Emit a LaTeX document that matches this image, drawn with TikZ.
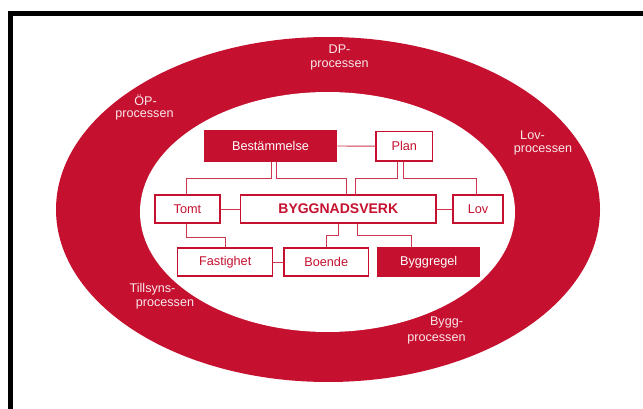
\documentclass[tikz,border=0pt]{standalone}
\usepackage{fontspec}
\setmainfont{Liberation Sans}
\definecolor{crim}{RGB}{197,17,47}
\definecolor{ringtxt}{RGB}{250,232,235}
\tikzset{
  box/.style={draw=crim, line width=1.4pt, fill=white, text=crim, inner sep=0pt,
    font=\fontsize{12.7}{15}\selectfont},
  fbox/.style={box, fill=crim, text=white},
  conn/.style={draw=crim!85, line width=0.9pt},
  ringlbl/.style={text=ringtxt, inner sep=0pt, font=\fontsize{12.6}{15}\selectfont}
}
\begin{document}
\begin{tikzpicture}[x=1pt,y=-1pt]
\useasboundingbox (0,0) rectangle (643,409);
\fill[white] (0,0) rectangle (643,409);
% frame
\draw[line width=5pt, line join=miter] (10.5,409) -- (10.5,13.5) -- (643,13.5);
% ring
\fill[crim] (328,209.5) ellipse [x radius=272, y radius=172.5];
\fill[white] (327.5,212) ellipse [x radius=187.5, y radius=120];
% ring labels
\node[ringlbl] (dp1) at (339.5,49.5) {DP-};
\node[ringlbl] (dp2) at (339.5,65) {processen};
\node[ringlbl] (op1) at (145.5,100) {ÖP-};
\node[ringlbl] (op2) at (144.5,115) {processen};
\node[ringlbl] (lv1) at (532.5,135) {Lov-};
\node[ringlbl] (lv2) at (543,150.5) {processen};
\node[ringlbl] (ti1) at (152.5,289.5) {Tillsyns-};
\node[ringlbl] (ti2) at (165,304.5) {processen};
\node[ringlbl] (by1) at (446.5,322.5) {Bygg-};
\node[ringlbl] (by2) at (436.5,339) {processen};
% boxes
\node[fbox, minimum width=132.4pt, minimum height=30pt] (best) at (270.5,146) {Bestämmelse};
\node[box, minimum width=56.7pt, minimum height=29.5pt] (plan) at (404.3,146.2) {Plan};
\node[box, minimum width=65pt, minimum height=28pt] (tomt) at (187.5,209) {Tomt};
\node[box, minimum width=195.3pt, minimum height=28pt, font=\fontsize{14}{16}\selectfont\bfseries] (bv) at (338.3,209) {BYGGNADSVERK};
\node[box, minimum width=50pt, minimum height=28pt] (lov) at (478,209) {Lov};
\node[box, minimum width=95pt, minimum height=28.3pt] (fast) at (225.2,262) {Fastighet};
\node[box, minimum width=84.3pt, minimum height=28.3pt] (boende) at (326.2,262) {Boende};
\node[fbox, minimum width=101.3pt, minimum height=28.3pt] (bygg) at (428.7,262) {Byggregel};
% connectors
\draw[conn] (best.east) -- (plan.west);
\draw[conn] ([xshift=0.5pt]best.south) -- ++(0,16.7) -| ([xshift=-0.8pt]tomt.north);
\draw[conn] ([xshift=6.2pt]best.south) -- ++(0,16.7) -| ([xshift=8pt]bv.north);
\draw[conn] ([xshift=-6.6pt]plan.south) -- ++(0,16.5) -| ([xshift=16.7pt]bv.north);
\draw[conn] ([xshift=-1pt]plan.south) -- ++(0,16.5) -| ([xshift=-1.3pt]lov.north);
\draw[conn] (tomt.east) -- (bv.west);
\draw[conn] (bv.east) -- (lov.west);
\draw[conn] (fast.east) -- (boende.west);
\draw[conn] ([xshift=-0.8pt]tomt.south) -- ++(0,13.7) -| (fast.north);
\draw[conn] (bv.south) -- ++(0,11.7) -| (boende.north);
\draw[conn] ([xshift=19pt]bv.south) -- ++(0,11.7) -| ([xshift=-17.7pt]bygg.north);
\end{tikzpicture}
\end{document}
